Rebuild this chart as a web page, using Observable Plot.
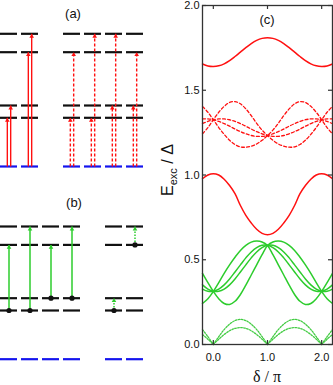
<!DOCTYPE html>
<html><head><meta charset="utf-8">
<script src="https://cdn.jsdelivr.net/npm/d3@7"></script>
<script src="https://cdn.jsdelivr.net/npm/@observablehq/plot@0.6"></script>
<style>
body{margin:0;background:#fff;}
#wrap{position:relative;width:333px;height:385px;overflow:hidden;background:#fff;font-family:"Liberation Sans",Arial,sans-serif;color:#111;}
.abs{position:absolute;}
.lab{position:absolute;font-size:13px;line-height:16px;text-align:center;width:40px;}
#ylab{position:absolute;left:123px;top:160px;width:90px;height:20px;line-height:20px;text-align:center;font-size:16px;transform:rotate(-90deg);transform-origin:50% 50%;white-space:nowrap;}
#ylab span{font-size:11px;position:relative;top:4px;}
#xlab{position:absolute;left:227px;top:368px;width:80px;text-align:center;font-family:"Liberation Serif","Times New Roman",serif;font-size:16px;line-height:18px;white-space:nowrap;}
</style></head><body>
<div id="wrap">
<div id="pa" class="abs" style="left:0;top:0"></div>
<div id="pb" class="abs" style="left:0;top:180px"></div>
<div id="pc" class="abs" style="left:160px;top:0"></div>
<div class="lab" style="left:53px;top:6px">(a)</div>
<div class="lab" style="left:54px;top:195px">(b)</div>
<div class="lab" style="left:247px;top:12px">(c)</div>
<div id="ylab">E<span>exc</span> / Δ</div>
<div id="xlab">δ / π</div>
</div>
<script>
// ---------- Panel (a)/(b): level diagrams ----------
const levelValues = [0, 0.487, 0.61, 1.143, 1.327]; // ground, e1, e2, e3, e4
const colsA = [0, 1, 3, 4, 5, 6];
const colsB = [0, 1, 2, 3, 5, 6];
// (a) solid arrows from ground
const aSolidCol = [0, 0, 1, 1];
const aSolidSide = [-1, 1, -1, 1];
const aSolidTo = [1, 2, 3, 4];
// (a) dashed arrows from ground
const aDashCol = [3, 3, 4, 4, 5, 5, 6, 6];
const aDashSide = [-1, 1, -1, 1, -1, 1, -1, 1];
const aDashTo = [1, 3, 1, 4, 2, 4, 2, 3];
// (b) solid arrows
const bSolidCol = [0, 1, 2, 3];
const bSolidFrom = [1, 1, 2, 2];
const bSolidTo = [3, 4, 3, 4];
// (b) dotted arrows
const bDotCol = [5, 6];
const bDotFrom = [1, 3];
const bDotTo = [2, 4];

// ---------- Panel (c): dispersion curves ----------
const delta = [-0.2,-0.1,0,0.1,0.2,0.3,0.4,0.5,0.6,0.7,0.8,0.9,1.0,1.1,1.2,1.3,1.4,1.5,1.6,1.7,1.8,1.9,2.0,2.1,2.2];
const redTop = [1.655,1.643,1.64,1.644,1.656,1.675,1.699,1.725,1.751,1.775,1.794,1.806,1.81,1.806,1.794,1.775,1.751,1.725,1.699,1.675,1.656,1.644,1.64,1.643,1.655];
const redLow = [0.978,1.0,1.008,1.0,0.975,0.938,0.89,0.82,0.762,0.717,0.68,0.656,0.648,0.656,0.68,0.717,0.762,0.82,0.89,0.938,0.975,1.0,1.008,1.0,0.978];
const redDashU = [1.243,1.28,1.326,1.37,1.405,1.428,1.433,1.42,1.39,1.35,1.305,1.265,1.233,1.205,1.183,1.17,1.164,1.166,1.18,1.205,1.24,1.28,1.326,1.37,1.405];
const redDashD = [1.405,1.37,1.326,1.28,1.24,1.205,1.18,1.166,1.164,1.17,1.183,1.205,1.233,1.265,1.305,1.35,1.39,1.42,1.433,1.428,1.405,1.37,1.326,1.28,1.243];
const redDashV1 = [1.331,1.331,1.326,1.316,1.303,1.288,1.271,1.256,1.243,1.233,1.228,1.228,1.233,1.243,1.256,1.271,1.288,1.303,1.316,1.326,1.331,1.331,1.326,1.316,1.303];
const redDashV2 = [1.303,1.316,1.326,1.331,1.331,1.326,1.316,1.303,1.288,1.271,1.256,1.243,1.233,1.228,1.228,1.233,1.243,1.256,1.271,1.288,1.303,1.316,1.326,1.331,1.331];
const greenA = [0.42,0.365,0.313,0.27,0.242,0.236,0.255,0.295,0.35,0.41,0.47,0.53,0.584,0.605,0.61,0.604,0.585,0.555,0.515,0.47,0.42,0.365,0.313,0.27,0.242];
const greenB = [0.242,0.27,0.313,0.365,0.42,0.47,0.515,0.555,0.585,0.604,0.61,0.605,0.584,0.53,0.47,0.41,0.35,0.295,0.255,0.236,0.242,0.27,0.313,0.365,0.42];
const greenC = [0.327,0.314,0.314,0.327,0.352,0.387,0.428,0.47,0.511,0.546,0.571,0.585,0.585,0.571,0.546,0.511,0.47,0.428,0.387,0.352,0.327,0.314,0.314,0.327,0.352];
const greenD = [0.352,0.327,0.314,0.314,0.327,0.352,0.387,0.428,0.47,0.511,0.546,0.571,0.585,0.585,0.571,0.546,0.511,0.47,0.428,0.387,0.352,0.327,0.314,0.314,0.327];
const greenDot1 = [0.088,0.046,0,0.046,0.088,0.12,0.141,0.148,0.141,0.12,0.088,0.046,0,0.046,0.088,0.12,0.141,0.148,0.141,0.12,0.088,0.046,0,0.046,0.088];
const greenDot2 = [0.059,0.031,0,0.031,0.059,0.081,0.095,0.1,0.095,0.081,0.059,0.031,0,0.031,0.059,0.081,0.095,0.1,0.095,0.081,0.059,0.031,0,0.031,0.059];
const xTicks = [0, 1, 2];
const yTicks = [0, 0.5, 1.0, 1.5, 2.0];

// ---------- drawing ----------
const RED = "#ff1010", GREEN = "#2ccc2c", BLUE = "#1414ee", BLACK = "#111";
const hw = 0.405, sideOff = 0.08;

function levelMarks(cols) {
  const rows = cols.flatMap(c => levelValues.map((e, i) => ({c, e, ground: i === 0})));
  return [
    Plot.ruleY(rows.filter(d => !d.ground), {y: "e", x1: d => d.c - hw, x2: d => d.c + hw, stroke: BLACK, strokeWidth: 2.2}),
    Plot.ruleY(rows.filter(d => d.ground), {y: "e", x1: d => d.c - hw, x2: d => d.c + hw, stroke: BLUE, strokeWidth: 2.2})
  ];
}
function arrowMarks(rows, color, dash, width) {
  return [
    Plot.link(rows, {x1: "x", y1: "y1", x2: "x", y2: "y2", stroke: color, strokeWidth: width, strokeDasharray: dash}),
    Plot.dot(rows, {x: "x", y: "y2", symbol: "triangle", r: 1.7, fill: color, stroke: "none", dy: 2.6})
  ];
}
const aSolid = aSolidCol.map((c, i) => ({x: c + aSolidSide[i] * sideOff, y1: levelValues[0], y2: levelValues[aSolidTo[i]]}));
const aDash = aDashCol.map((c, i) => ({x: c + aDashSide[i] * sideOff, y1: levelValues[0], y2: levelValues[aDashTo[i]]}));
const bSolid = bSolidCol.map((c, i) => ({x: c, y1: levelValues[bSolidFrom[i]], y2: levelValues[bSolidTo[i]]}));
const bDot = bDotCol.map((c, i) => ({x: c, y1: levelValues[bDotFrom[i]], y2: levelValues[bDotTo[i]]}));

const baseStyle = {background: "transparent", overflow: "visible"};
document.getElementById("pa").append(Plot.plot({
  width: 150, height: 180, margin: 0,
  x: {domain: [0, 6], range: [8.5, 134.5], axis: null},
  y: {domain: [0, levelValues[4]], range: [166, 33.3], axis: null},
  style: baseStyle,
  marks: [
    ...levelMarks(colsA),
    ...arrowMarks(aSolid, RED, null, 1.4),
    ...arrowMarks(aDash, RED, "3,2", 1.4)
  ]
}));
document.getElementById("pb").append(Plot.plot({
  width: 150, height: 205, margin: 0,
  x: {domain: [0, 6], range: [8.5, 134.5], axis: null},
  y: {domain: [0, levelValues[4]], range: [178.7, 46], axis: null},
  style: baseStyle,
  marks: [
    ...levelMarks(colsB),
    ...arrowMarks(bSolid, GREEN, null, 1.5),
    ...arrowMarks(bDot, GREEN, "1.5,1.5", 1.5),
    Plot.dot([...bSolid, ...bDot], {x: "x", y: "y1", r: 2.6, fill: BLACK})
  ]
}));

function rowsOf(vals) { return delta.map((d, i) => ({d, e: vals[i]})); }
function humpRows(vals) {
  const out = [];
  for (let k = -1; k <= 2; k++) {
    delta.forEach((d, i) => { if (d >= k - 1e-9 && d <= k + 1 + 1e-9) out.push({d, e: vals[i], seg: k}); });
  }
  return out;
}
const solidLine = (vals, color) => Plot.line(rowsOf(vals), {x: "d", y: "e", stroke: color, strokeWidth: 1.5, curve: "catmull-rom"});
const dashLine = (vals) => Plot.line(rowsOf(vals), {x: "d", y: "e", stroke: RED, strokeWidth: 1.3, strokeDasharray: "3,2.2", curve: "catmull-rom"});
const dotLine = (vals) => Plot.line(humpRows(vals), {x: "d", y: "e", z: "seg", stroke: "#44cc44", strokeWidth: 1.3, strokeDasharray: "1.6,1.4", curve: "catmull-rom"});

const plotW = 173 - 42 - 1, plotH = 385 - 5 - 41, tl = 4;
document.getElementById("pc").append(Plot.plot({
  width: 173, height: 385, marginLeft: 42, marginRight: 1, marginTop: 5, marginBottom: 41,
  x: {domain: [-0.2, 2.2], ticks: xTicks, tickFormat: d => d.toFixed(1), tickSize: 0, tickPadding: 9, label: null},
  y: {domain: [0, 2], ticks: yTicks, tickFormat: d => d.toFixed(1), tickSize: 0, tickPadding: 3, label: null},
  style: {fontFamily: "Liberation Sans, Arial, sans-serif", fontSize: "11px", background: "transparent", color: "#111", overflow: "visible"},
  marks: [
    solidLine(redTop, RED),
    solidLine(redLow, RED),
    dashLine(redDashU), dashLine(redDashD), dashLine(redDashV1), dashLine(redDashV2),
    solidLine(greenA, GREEN), solidLine(greenB, GREEN), solidLine(greenC, GREEN), solidLine(greenD, GREEN),
    dotLine(greenDot1), dotLine(greenDot2),
    Plot.tickY(yTicks, {y: d => d, insetRight: plotW - tl, stroke: "#333", strokeWidth: 1.2}),
    Plot.tickY(yTicks, {y: d => d, insetLeft: plotW - tl, stroke: "#333", strokeWidth: 1.2}),
    Plot.tickX(xTicks, {x: d => d, insetBottom: plotH - tl, stroke: "#333", strokeWidth: 1.2}),
    Plot.tickX(xTicks, {x: d => d, insetTop: plotH - tl, stroke: "#333", strokeWidth: 1.2}),
    Plot.frame({stroke: "#333", strokeWidth: 1.3})
  ]
}));
</script>
</body></html>
